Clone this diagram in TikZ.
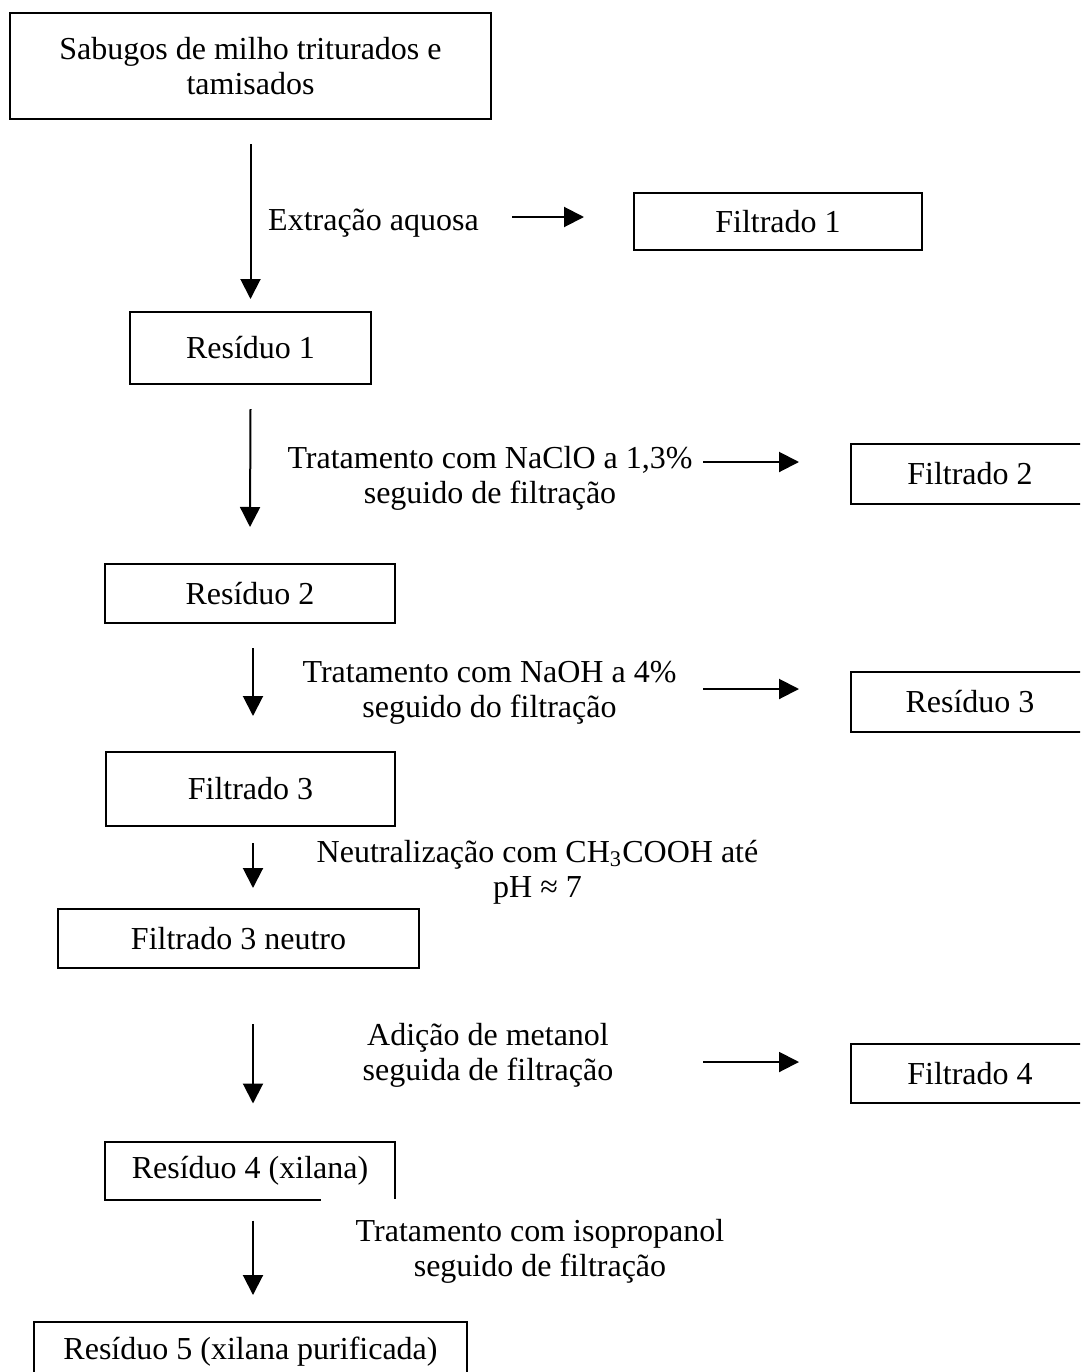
\documentclass[tikz,border=0pt]{standalone}
\usepackage{fontspec}
\setmainfont{Liberation Serif}
\usepackage{tikz}
\usetikzlibrary{arrows.meta,calc}
\tikzset{
  caixa/.style={draw=black, line width=0.8pt, align=center, inner sep=0pt,
                font=\fontsize{12.8}{14}\selectfont},
  rotulo/.style={align=center, inner sep=0pt, font=\fontsize{12.8}{14}\selectfont},
  seta/.style={-{Triangle[length=8pt,width=8pt]}, line width=0.8pt},
}

\begin{document}
\begin{tikzpicture}[x=0.4pt,y=-0.4pt]
  \clip (0,0) rectangle (1080,1372);
  %% coluna principal
  \node[caixa, minimum width=192.4pt, minimum height=42.4pt] (sab) at (250.5,66)
    {Sabugos de milho triturados e\\tamisados};
  \node[caixa, minimum width=96.4pt, minimum height=28.8pt] (res1) at (250.5,348) {Resíduo 1};
  \node[caixa, minimum width=116pt, minimum height=23.6pt] (res2) at (250,593.5) {Resíduo 2};
  \node[caixa, minimum width=115.6pt, minimum height=29.6pt] (filt3) at (250.5,789) {Filtrado 3};
  \node[caixa, minimum width=144.4pt, minimum height=23.6pt] (neutro) at (238.5,938.5) {Filtrado 3 neutro};
  %% Resíduo 4: contorno aberto
  \node[rotulo, minimum width=115.2pt, minimum height=22.8pt] (res4) at (250,1170.5) {Resíduo 4 (xilana)};
  \draw[line width=0.8pt] ($(res4.south west)+(215,0)$) -- (res4.south west) -- (res4.north west)
    -- (res4.north east) -- ($(res4.south east)+(0,-1)$);
  \node[caixa, anchor=north, minimum width=173.2pt, minimum height=24pt] (res5) at (250.5,1321)
    {Resíduo 5 (xilana purificada)};

  %% coluna da direita
  \node[caixa, minimum width=115.2pt, minimum height=22.8pt] (filt1) at (778,221.5) {Filtrado 1};
  \node[caixa, minimum width=95.2pt, minimum height=24pt] (filt2) at (970,474) {Filtrado 2};
  \node[caixa, minimum width=95.2pt, minimum height=24pt] (res3) at (970,702) {Resíduo 3};
  \node[caixa, minimum width=95.2pt, minimum height=23.6pt] (filt4) at (970,1073.5) {Filtrado 4};

  %% etapas
  \node[rotulo, anchor=base] (ext) at (373.5,230) {Extração aquosa};
  \node[rotulo] (naclo) at (490,478.5) {Tratamento com NaClO a 1,3\%\\seguido de filtração};
  \node[rotulo] (naoh) at (489.5,693) {Tratamento com NaOH a 4\%\\seguido do filtração};
  \node[rotulo] (neut) at (537.5,872) {Neutralização com CH\textsubscript{3}COOH até\\pH ≈ 7};
  \node[rotulo] (met) at (488,1055) {Adição de metanol\\seguida de filtração};
  \node[rotulo] (iso) at (540,1251) {Tratamento com isopropanol\\seguido de filtração};

  %% setas verticais
  \draw[seta] ($(sab.south)+(0,24)$) -- ($(res1.north)+(0,-12)$);
  \draw[seta] ($(res1.south)+(0,24)$) -- ($(res2.north)+(0,-36)$);
  \draw[seta] ($(res2.south)+(3,24)$) -- ($(filt3.north)+(2.5,-35)$);
  \draw[seta] ($(filt3.south)+(2.5,16)$) -- ($(filt3.south |- neutro.north)+(2.5,-20)$);
  \draw[seta] ($(neutro.south -| res4.north)+(3,55)$) -- ($(res4.north)+(3,-38)$);
  \draw[seta] ($(res4.south)+(3,21)$) -- ($(res5.north)+(2.5,-26)$);

  %% setas horizontais
  \draw[seta] ($(filt1.west)+(-121,-4.5)$) -- ($(filt1.west)+(-49,-4.5)$);
  \draw[seta] ($(filt2.west)+(-147,-12)$) -- ($(filt2.west)+(-51,-12)$);
  \draw[seta] ($(res3.west)+(-147,-13)$) -- ($(res3.west)+(-51,-13)$);
  \draw[seta] ($(filt4.west)+(-147,-11.5)$) -- ($(filt4.west)+(-51,-11.5)$);
\end{tikzpicture}
\end{document}
